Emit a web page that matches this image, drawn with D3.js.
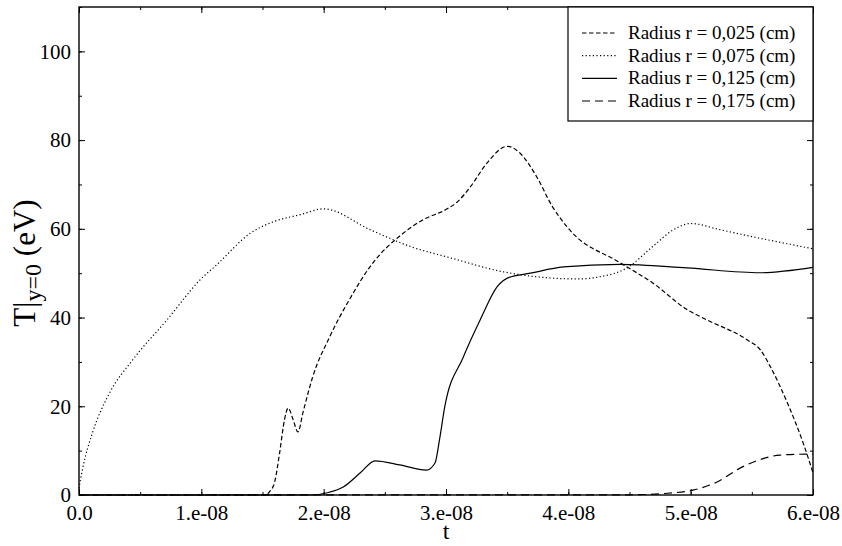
<!DOCTYPE html>
<html lang="en">
  <head>
    <meta charset='utf-8'>
    <script type="text/javascript" src="https://cdn.jsdelivr.net/npm/d3@7"></script>
    <title>T at y=0 versus t</title>
    <style>
      body { margin: 0; background: white; }
      text { font-family: "Liberation Serif", "DejaVu Serif", serif; fill: black; }
    </style>
  </head>
  <body>
    <div id="chart"></div>
    <script type="text/javascript">
      //Data (t in seconds, T in eV)
      var t025 = [0, 1.52e-8, 1.56e-8, 1.6e-8, 1.64e-8, 1.68e-8, 1.71e-8, 1.75e-8, 1.79e-8, 1.83e-8, 1.91e-8, 2.05e-8, 2.22e-8, 2.38e-8, 2.65e-8, 2.81e-8, 3.01e-8, 3.09e-8, 3.2e-8, 3.34e-8, 3.5e-8, 3.6e-8, 3.74e-8, 3.87e-8, 4.01e-8, 4.42e-8, 4.69e-8, 4.97e-8, 5.13e-8, 5.46e-8, 5.57e-8, 5.65e-8, 5.79e-8, 5.92e-8, 6.0e-8];
      var T025 = [0, 0, 0.8, 3, 9.5, 17, 19.6, 17, 14.2, 18.5, 26.6, 35.7, 44.5, 51.5, 59, 62, 64.5, 66, 69.5, 75, 78.6, 77.2, 71.8, 65, 59.8, 52.4, 47.8, 41.8, 39.5, 35, 32.7, 29, 20.8, 11.7, 5];

      var t075 = [0, 0.03e-8, 0.11e-8, 0.25e-8, 0.44e-8, 0.72e-8, 0.99e-8, 1.13e-8, 1.4e-8, 1.59e-8, 1.81e-8, 2.0e-8, 2.38e-8, 2.71e-8, 3.03e-8, 3.47e-8, 4.07e-8, 4.26e-8, 4.48e-8, 4.69e-8, 4.86e-8, 5.0e-8, 5.24e-8, 5.51e-8, 6.0e-8];
      var T075 = [1.5, 6, 14, 23, 30.5, 39.5, 48.5, 52, 59, 61.6, 63.2, 64.5, 59.8, 56, 53.5, 50.3, 48.7, 49.2, 51.2, 56, 59.8, 61.2, 59.8, 58.2, 55.5];

      var t125 = [0, 1.9e-8, 2.03e-8, 2.16e-8, 2.3e-8, 2.42e-8, 2.62e-8, 2.84e-8, 2.91e-8, 2.95e-8, 2.99e-8, 3.14e-8, 3.28e-8, 3.42e-8, 3.51e-8, 3.69e-8, 3.96e-8, 4.42e-8, 4.97e-8, 5.57e-8, 6.0e-8];
      var T125 = [0, 0, 0.5, 1.8, 5, 7.7, 6.8, 5.6, 7.2, 13, 19.9, 31, 39.5, 47, 49, 50, 51.4, 52, 51.2, 50.1, 51.3];

      var t175 = [0, 4.5e-8, 4.81e-8, 5.02e-8, 5.22e-8, 5.4e-8, 5.57e-8, 5.73e-8, 5.95e-8, 6.0e-8];
      var T175 = [0, 0.05, 0.4, 1.1, 3, 6, 8, 9, 9.2, 9.2];

      var seriesNames = ["Radius r = 0,025 (cm)", "Radius r = 0,075 (cm)", "Radius r = 0,125 (cm)", "Radius r = 0,175 (cm)"];
      var xTicks = [0, 1e-8, 2e-8, 3e-8, 4e-8, 5e-8, 6e-8];
      var xTickLabels = ["0.0", "1.e-08", "2.e-08", "3.e-08", "4.e-08", "5.e-08", "6.e-08"];
      var yTicks = [0, 20, 40, 60, 80, 100];

      (function(){
        var w = 842;
        var h = 546;
        var pLeft = 79, pRight = 813, pTop = 7, pBottom = 495;

        var x = d3.scaleLinear().domain([0, 6e-8]).range([pLeft, pRight]);
        var y = d3.scaleLinear().domain([0, 110]).range([pBottom, pTop]);

        var svg = d3.select("#chart")
          .append("svg")
          .attr("width", w)
          .attr("height", h)
          .style("background", "white");

        //Minor ticks (no labels), on all four sides
        var xMinor = d3.range(0, 6.01e-8, 0.5e-8);
        var yMinor = d3.range(0, 111, 10);
        svg.append("g").attr("transform", "translate(0," + pBottom + ")")
          .call(d3.axisBottom(x).tickValues(xMinor).tickSize(-3).tickFormat(""));
        svg.append("g").attr("transform", "translate(0," + pTop + ")")
          .call(d3.axisTop(x).tickValues(xMinor).tickSize(-3).tickFormat(""));
        svg.append("g").attr("transform", "translate(" + pLeft + ",0)")
          .call(d3.axisLeft(y).tickValues(yMinor).tickSize(-3).tickFormat(""));
        svg.append("g").attr("transform", "translate(" + pRight + ",0)")
          .call(d3.axisRight(y).tickValues(yMinor).tickSize(-3).tickFormat(""));

        //Major ticks
        svg.append("g").attr("transform", "translate(0," + pBottom + ")")
          .call(d3.axisBottom(x).tickValues(xTicks).tickSize(-6).tickPadding(10)
            .tickFormat(function(d, i){return xTickLabels[i];}));
        svg.append("g").attr("transform", "translate(0," + pTop + ")")
          .call(d3.axisTop(x).tickValues(xTicks).tickSize(-6).tickFormat(""));
        svg.append("g").attr("transform", "translate(" + pLeft + ",0)")
          .call(d3.axisLeft(y).tickValues(yTicks).tickSize(-6).tickPadding(8)
            .tickFormat(function(d){return d;}));
        svg.append("g").attr("transform", "translate(" + pRight + ",0)")
          .call(d3.axisRight(y).tickValues(yTicks).tickSize(-6).tickFormat(""));

        svg.selectAll(".domain").remove();
        svg.selectAll(".tick line").attr("stroke", "black").attr("stroke-width", 1);
        svg.selectAll(".tick text").attr("font-size", "21px")
          .attr("font-family", "Liberation Serif, serif").attr("fill", "black");

        //Frame
        svg.append("rect")
          .attr("x", pLeft).attr("y", pTop)
          .attr("width", pRight - pLeft).attr("height", pBottom - pTop)
          .attr("fill", "none").attr("stroke", "black").attr("stroke-width", 1.4);

        //Curves
        var series = [
          {t: t025, v: T025, dash: "4.5,2.5"},
          {t: t075, v: T075, dash: "1.2,2.4"},
          {t: t125, v: T125, dash: null},
          {t: t175, v: T175, dash: "8,5"}
        ];
        var line = d3.line()
          .x(function(d){return x(d[0]);})
          .y(function(d){return y(d[1]);})
          .curve(d3.curveMonotoneX);

        series.forEach(function(s){
          var pts = s.t.map(function(tt, i){return [tt, s.v[i]];});
          svg.append("path")
            .attr("d", line(pts))
            .attr("fill", "none")
            .attr("stroke", "black")
            .attr("stroke-width", 1.2)
            .attr("stroke-dasharray", s.dash);
        });

        //Legend box
        svg.append("rect")
          .attr("x", 568).attr("y", pTop)
          .attr("width", pRight - 568).attr("height", 121 - pTop)
          .attr("fill", "white").attr("stroke", "black").attr("stroke-width", 1.2);
        var legendY = d3.scalePoint().domain(seriesNames).range([33, 101]);
        seriesNames.forEach(function(name, i){
          svg.append("line")
            .attr("x1", 582).attr("x2", 617)
            .attr("y1", legendY(name)).attr("y2", legendY(name))
            .attr("stroke", "black").attr("stroke-width", 1.1)
            .attr("stroke-dasharray", series[i].dash);
          svg.append("text")
            .attr("x", 628).attr("y", legendY(name) + 6)
            .attr("font-size", "19px")
            .text(name);
        });

        //Axis titles
        svg.append("text")
          .attr("x", (pLeft + pRight) / 2).attr("y", 539)
          .attr("text-anchor", "middle")
          .attr("font-size", "24px")
          .text("t");
        var yl = svg.append("text")
          .attr("transform", "translate(35,263) rotate(-90)")
          .attr("text-anchor", "middle")
          .attr("font-size", "31px");
        yl.append("tspan").text("T|");
        yl.append("tspan").attr("font-size", "24px").attr("dy", 6).text("y=0");
        yl.append("tspan").attr("dy", -6).text(" (eV)");
      })();
    </script>
  </body>
</html>
